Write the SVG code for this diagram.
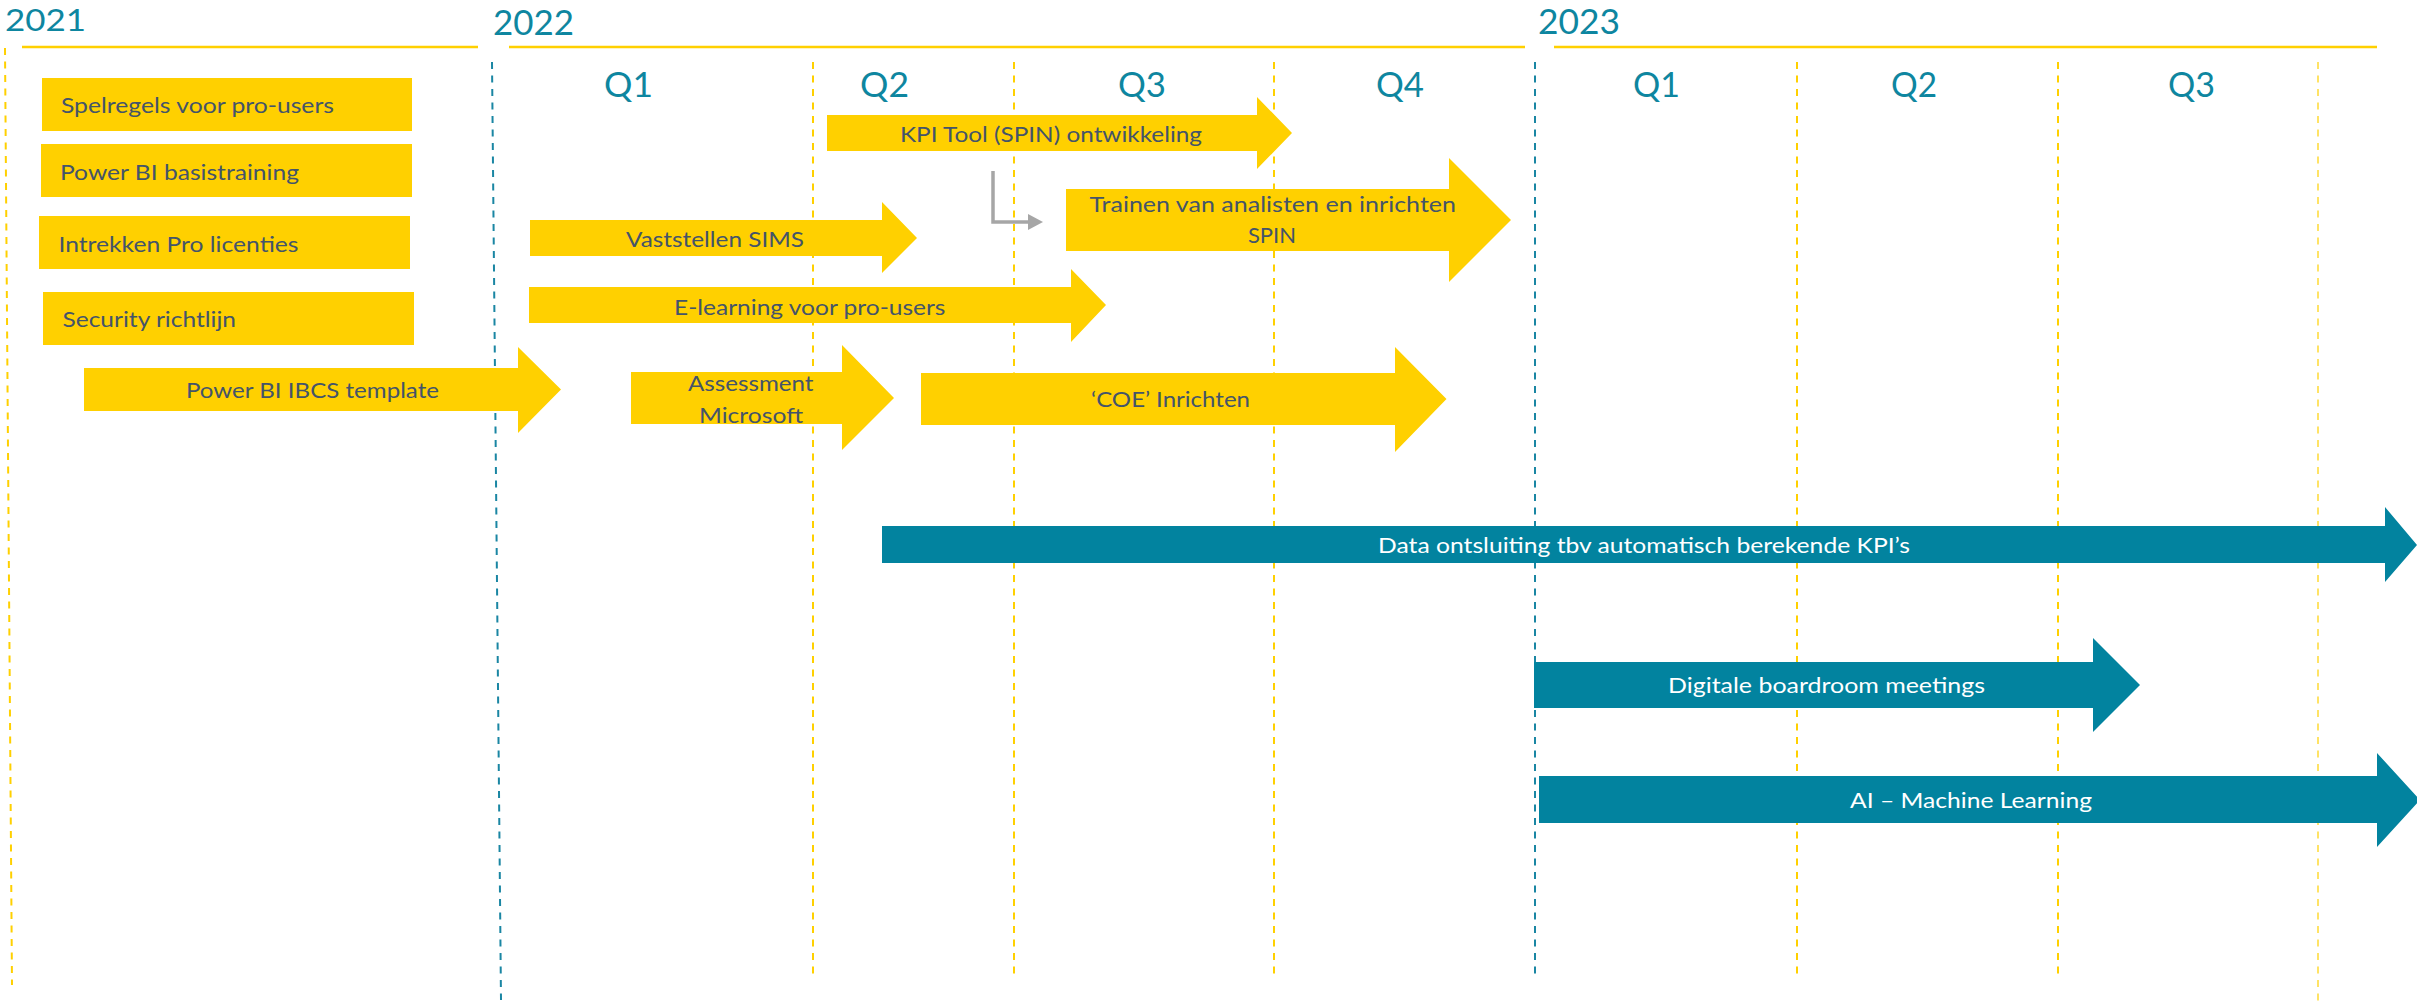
<svg xmlns="http://www.w3.org/2000/svg" width="2417" height="1003" viewBox="0 0 2417 1003">
<defs>
<style>
.bg{fill:#ffffff}
.yl{fill:#FFD000}
.bl{fill:#02839F}
.tx{font-family:Lato,"Liberation Sans",sans-serif;font-size:22px;fill:#44546A}
.tw{font-family:Lato,"Liberation Sans",sans-serif;font-size:22px;fill:#ffffff}
.hd{font-family:Lato,"Liberation Sans",sans-serif;font-size:35px;fill:#0E86A0}
.hline{stroke:#FFD000;stroke-width:2.5;fill:none}
.dy{stroke:#FFD000;stroke-width:2;stroke-dasharray:7 6.5;fill:none}
.db{stroke:#1A86A3;stroke-width:2;stroke-dasharray:7 6.5;fill:none}
.conn{stroke:#A6A6A6;stroke-width:3.5;fill:none}
</style>
<marker id="ah" markerUnits="userSpaceOnUse" markerWidth="16" markerHeight="17" refX="0" refY="8" orient="auto">
<path d="M0,0 L15,8 L0,16 z" fill="#A6A6A6"/>
</marker>
</defs>
<rect class="bg" x="0" y="0" width="2417" height="1003"/>

<g id="timeline">
<line class="hline" x1="22" y1="47" x2="478" y2="47"/>
<line class="hline" x1="509" y1="47" x2="1525" y2="47"/>
<line class="hline" x1="1554" y1="47" x2="2377" y2="47"/>
<line class="dy" x1="5" y1="48" x2="12" y2="985"/>
<line class="db" x1="492" y1="62" x2="501" y2="1000"/>
<line class="dy" x1="813" y1="62" x2="813" y2="979"/>
<line class="dy" x1="1014" y1="62" x2="1014" y2="979"/>
<line class="dy" x1="1274" y1="62" x2="1274" y2="979"/>
<line class="db" x1="1535" y1="62" x2="1535" y2="979"/>
<line class="dy" x1="1797" y1="62" x2="1797" y2="979"/>
<line class="dy" x1="2058" y1="62" x2="2058" y2="979"/>
<line class="dy" x1="2318" y1="62" x2="2318" y2="1002" stroke-opacity="0.6"/>
<text class="hd" x="5" y="31" font-size="31" style="font-size:31px" textLength="81" lengthAdjust="spacingAndGlyphs">2021</text>
<text class="hd" x="493" y="35" textLength="81" lengthAdjust="spacingAndGlyphs">2022</text>
<text class="hd" x="1538" y="34" textLength="82" lengthAdjust="spacingAndGlyphs">2023</text>
<text class="hd" x="604" y="97" textLength="49" lengthAdjust="spacingAndGlyphs">Q1</text>
<text class="hd" x="860" y="97" textLength="49" lengthAdjust="spacingAndGlyphs">Q2</text>
<text class="hd" x="1118" y="97" textLength="48" lengthAdjust="spacingAndGlyphs">Q3</text>
<text class="hd" x="1376" y="97" textLength="48" lengthAdjust="spacingAndGlyphs">Q4</text>
<text class="hd" x="1633" y="97" textLength="47" lengthAdjust="spacingAndGlyphs">Q1</text>
<text class="hd" x="1891" y="97" textLength="46" lengthAdjust="spacingAndGlyphs">Q2</text>
<text class="hd" x="2168" y="97" textLength="47" lengthAdjust="spacingAndGlyphs">Q3</text>
</g>

<g id="spelregels">
<rect class="yl" x="42" y="78" width="370" height="53"/>
<text class="tx" x="61" y="113" textLength="273" lengthAdjust="spacingAndGlyphs">Spelregels voor pro-users</text>
</g>
<g id="basistraining">
<rect class="yl" x="41" y="144" width="371" height="53"/>
<text class="tx" x="60" y="180" textLength="239" lengthAdjust="spacingAndGlyphs">Power BI basistraining</text>
</g>
<g id="intrekken">
<rect class="yl" x="39" y="216" width="371" height="53"/>
<text class="tx" x="58.5" y="252" textLength="240" lengthAdjust="spacingAndGlyphs">Intrekken Pro licenties</text>
</g>
<g id="security">
<rect class="yl" x="43" y="292" width="371" height="53"/>
<text class="tx" x="62.5" y="327" textLength="173.5" lengthAdjust="spacingAndGlyphs">Security richtlijn</text>
</g>
<g id="ibcs">
<polygon class="yl" points="84,368 518,368 518,347 561,389.5 518,433 518,411 84,411"/>
<text class="tx" x="186" y="398" textLength="253" lengthAdjust="spacingAndGlyphs">Power BI IBCS template</text>
</g>
<g id="kpitool">
<polygon class="yl" points="827,115 1257,115 1257,97 1292,133 1257,169 1257,151 827,151"/>
<text class="tx" x="900" y="142" textLength="302" lengthAdjust="spacingAndGlyphs">KPI Tool (SPIN) ontwikkeling</text>
</g>
<g id="sims">
<polygon class="yl" points="530,220 882,220 882,202 917,238 882,273 882,256 530,256"/>
<text class="tx" x="626" y="247" textLength="178" lengthAdjust="spacingAndGlyphs">Vaststellen SIMS</text>
</g>
<g id="elearning">
<polygon class="yl" points="529,287 1071,287 1071,269 1106,305 1071,342 1071,323 529,323"/>
<text class="tx" x="674" y="315" textLength="271.5" lengthAdjust="spacingAndGlyphs">E-learning voor pro-users</text>
</g>
<g id="trainen">
<polygon class="yl" points="1066,189 1449,189 1449,158 1511,220 1449,282 1449,251 1066,251"/>
<text class="tx" x="1089.5" y="212" textLength="366.5" lengthAdjust="spacingAndGlyphs">Trainen van analisten en inrichten</text>
<text class="tx" x="1272" y="243" text-anchor="middle">SPIN</text>
</g>
<g id="assessment">
<polygon class="yl" points="631,372 842,372 842,345 894,398 842,450 842,424 631,424"/>
<text class="tx" x="688" y="391" textLength="125.5" lengthAdjust="spacingAndGlyphs">Assessment</text>
<text class="tx" x="699" y="423" textLength="104" lengthAdjust="spacingAndGlyphs">Microsoft</text>
</g>
<g id="coe">
<polygon class="yl" points="921,373 1395,373 1395,347 1446.5,399 1395,452 1395,425 921,425"/>
<text class="tx" x="1091" y="407" textLength="159" lengthAdjust="spacingAndGlyphs">‘COE’ Inrichten</text>
</g>
<g id="dataontsluiting">
<polygon class="bl" points="882,526 2385,526 2385,507 2417,545 2385,582 2385,563 882,563"/>
<text class="tw" x="1378" y="553" textLength="532" lengthAdjust="spacingAndGlyphs">Data ontsluiting tbv automatisch berekende KPI’s</text>
</g>
<g id="boardroom">
<polygon class="bl" points="1534,662 2093,662 2093,638 2140,685 2093,732 2093,708 1534,708"/>
<text class="tw" x="1668" y="693" textLength="317" lengthAdjust="spacingAndGlyphs">Digitale boardroom meetings</text>
</g>
<g id="ai">
<polygon class="bl" points="1539,776 2377,776 2377,753 2420,800 2377,847 2377,823 1539,823"/>
<text class="tw" x="1850" y="808" textLength="242" lengthAdjust="spacingAndGlyphs">AI – Machine Learning</text>
</g>

<g id="connectors">
<path class="conn" d="M993,171 V222 H1028" marker-end="url(#ah)"/>
</g>
</svg>
